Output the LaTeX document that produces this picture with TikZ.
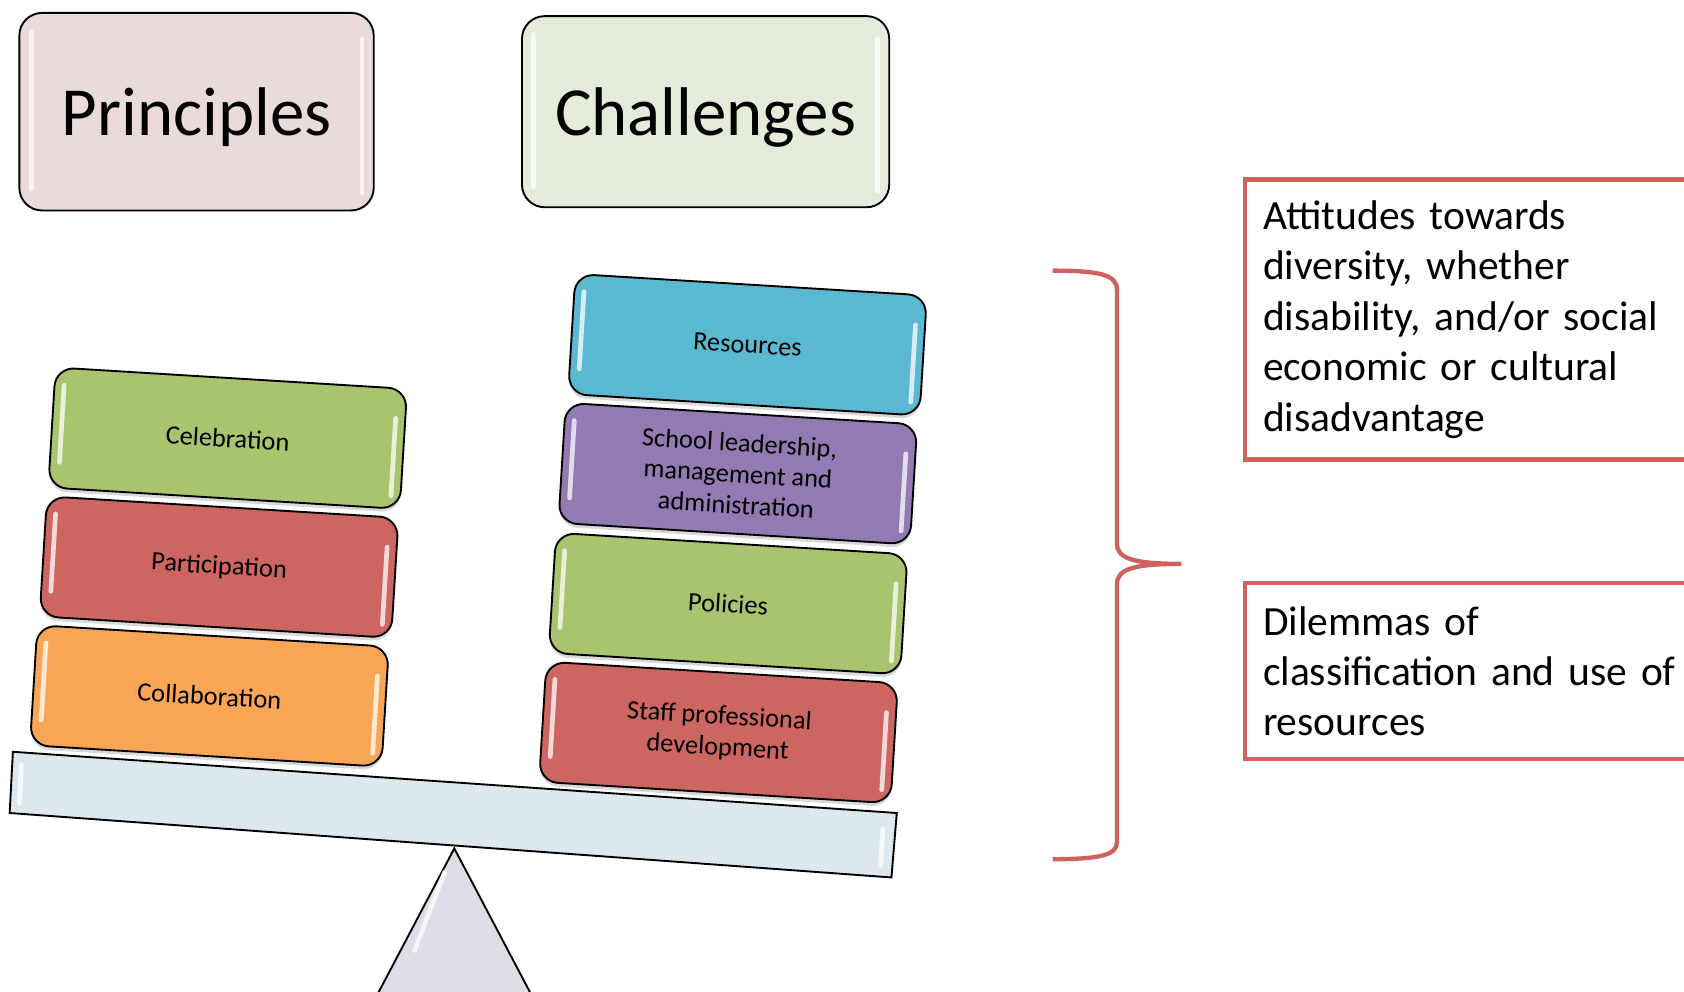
\documentclass[tikz,border=0pt]{standalone}
\usepackage{fontspec}
\setmainfont{Carlito}
\usetikzlibrary{shadows}

\definecolor{princfill}{HTML}{EBDADA}
\definecolor{challfill}{HTML}{E4EBDB}
\definecolor{greenbox}{HTML}{A9C46E}
\definecolor{redbox}{HTML}{CD6560}
\definecolor{orangebox}{HTML}{F8A656}
\definecolor{bluebox}{HTML}{5BB8D1}
\definecolor{purplebox}{HTML}{937AB2}
\definecolor{beamfill}{HTML}{DCE8EE}
\definecolor{pivotfill}{HTML}{DFDCE7}
\definecolor{braceline}{HTML}{D0625D}

\tikzset{
  block/.style={draw=black, line width=1pt, rounded corners=10pt, minimum width=6.56cm, minimum height=2.24cm, align=center, font=\fontsize{14}{16.5}\selectfont, drop shadow={shadow xshift=0pt, shadow yshift=-2pt, opacity=0.3}},
  gloss/.style={white, line width=2.5pt, line cap=round, opacity=0.75},
  title/.style={draw=black, line width=1pt, rounded corners=12pt, text depth=0pt, font=\fontsize{36.5}{40}\selectfont},
  note/.style={draw=braceline, line width=2.3pt, anchor=north west, align=left, inner xsep=0.34cm, text width=9cm, font=\fontsize{22}{26.75}\selectfont}
}

\begin{document}
\begin{tikzpicture}[x=0.02cm, y=-0.02cm]
    \clip (0,0) rectangle (1568,923);
    % the two headings
    \node[title, fill=princfill, minimum width=6.6cm, minimum height=3.68cm] (principles) at (183,104) {Principles};
    \node[title, fill=challfill, minimum width=6.84cm, minimum height=3.56cm] (challenges) at (657,104) {Challenges};
    \draw[gloss] (29,30) -- (29,176); \draw[gloss] (337,36) -- (337,180);
    \draw[gloss] (497,32) -- (497,174); \draw[gloss] (817,36) -- (817,178);
    % seesaw
    \draw[line width=1pt, fill=pivotfill] (423,790) -- (502,940) -- (344,940) -- cycle;
    \draw[gloss] (414,812) -- (386,885);
    \draw[line width=1pt, fill=beamfill] (12,700) -- (835,757) -- (830,817) -- (9,757) -- cycle;
    \draw[gloss] (20,712) -- (18,748); \draw[gloss] (822,772) -- (820,806);
    % stacked blocks
    \foreach \nm/\x/\y/\col/\txt in {celebration/212/408/greenbox/Celebration, participation/204/528/redbox/Participation, collaboration/195/648/orangebox/Collaboration, resources/696/321/bluebox/Resources, leadership/687/441/purplebox/{School leadership,\\ management and\\ administration}, policies/678/562/greenbox/Policies, staff/669/682/redbox/{Staff professional\\ development}}
    {
        \begin{scope}[shift={(\x,\y)}, rotate=-3.5, transform shape]
            \node[block, fill=\col] (\nm) at (0,0) {\txt};
            \draw[gloss] (-155,-40) -- (-155,32);
            \draw[gloss] (155,-28) -- (155,44);
        \end{scope}
    }
    % brace and notes
    \draw[braceline, line width=2.3pt] (980,252) .. controls (1025,252) and (1040,256) .. (1040,270) -- (1040,506) .. controls (1040,520) and (1055,525) .. (1100,525) .. controls (1055,525) and (1040,530) .. (1040,544) -- (1040,784) .. controls (1040,796) and (1025,800) .. (980,800);
    \node[note, minimum height=5.22cm] (attitudes) at (1157,165) {Attitudes towards\\ diversity, whether\\ disability, and/or social\\ economic or cultural\\ disadvantage};
    \node[note, minimum height=3.28cm] (dilemmas) at (1157,541) {Dilemmas of\\ classification and use of\\ resources};
\end{tikzpicture}
\end{document}
